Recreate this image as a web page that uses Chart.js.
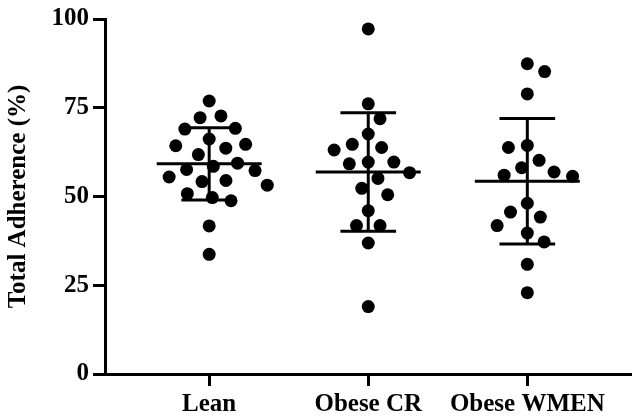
<!DOCTYPE html>
<html>
<head>
<meta charset="utf-8">
<script src="https://cdn.jsdelivr.net/npm/chart.js@4.4.1/dist/chart.umd.min.js"></script>
<style>
  html, body { margin: 0; padding: 0; background: #fff; }
</style>
</head>
<body>
<canvas id="adherence" width="638" height="420"></canvas>
<script>
// groupes et valeurs
var groups = ['Lean', 'Obese CR', 'Obese WMEN'];
var lean = [76.9, 72.7, 72.2, 69.2, 69.0, 66.2, 64.7, 64.3, 63.6, 61.8, 59.4, 58.5,
            57.6, 57.3, 55.5, 54.5, 54.2, 53.2, 50.8, 49.7, 48.8, 41.7, 33.7];
var obeseCR = [97.2, 76.1, 71.9, 67.6, 64.7, 63.8, 63.1, 59.7, 59.7, 59.2, 56.7, 55.1,
               52.3, 50.5, 46.0, 41.8, 41.8, 36.9, 19.0];
var obeseWMEN = [87.4, 85.2, 78.9, 64.4, 63.8, 60.2, 58.1, 56.9, 56.0, 55.7, 48.1, 45.6,
                 44.2, 41.8, 39.7, 37.2, 30.9, 22.9];
var means = [59.2, 56.9, 54.3];
var sds = [10.2, 16.7, 17.7];
var yTicks = [0, 25, 50, 75, 100];

var seriesList = [lean, obeseCR, obeseWMEN];
var serif = "'Liberation Serif', 'Times New Roman', serif";
var meanHalf = 0.33;  // demi-largeur du trait de moyenne
var capHalf = 0.175;  // demi-largeur des barres d'erreur

// jeux de données : points + moyenne + écart-type
var datasets = [];
seriesList.forEach(function(vals, i) {
  datasets.push({
    type: 'scatter',
    data: vals.map(function(v) { return { x: i + 1, y: v }; }),
    pointRadius: 6.5,
    pointHoverRadius: 6.5,
    backgroundColor: '#000',
    borderWidth: 0
  });
});
means.forEach(function(m, i) {
  var c = i + 1;
  var lo = m - sds[i], hi = m + sds[i];
  var segs = [
    [{ x: c - meanHalf, y: m }, { x: c + meanHalf, y: m }],
    [{ x: c, y: lo }, { x: c, y: hi }],
    [{ x: c - capHalf, y: lo }, { x: c + capHalf, y: lo }],
    [{ x: c - capHalf, y: hi }, { x: c + capHalf, y: hi }]
  ];
  segs.forEach(function(seg) {
    datasets.push({
      type: 'line',
      data: seg,
      borderColor: '#000',
      borderWidth: 3,
      pointRadius: 0,
      fill: false
    });
  });
});

var chart = new Chart(document.getElementById('adherence'), {
  type: 'scatter',
  data: { datasets: datasets },
  options: {
    responsive: false,
    animation: false,
    devicePixelRatio: 1,
    layout: { padding: { top: 14, right: 5, bottom: 0, left: 0 } },
    plugins: { legend: { display: false }, tooltip: { enabled: false } },
    scales: {
      x: {
        type: 'linear',
        min: 0.345,
        max: 3.655,
        afterBuildTicks: function(scale) {
          scale.ticks = groups.map(function(g, i) { return { value: i + 1 }; });
        },
        afterFit: function(scale) { scale.height = 46; },
        grid: { display: true, drawOnChartArea: false, drawTicks: true, tickLength: 12, tickWidth: 3, tickColor: '#000' },
        border: { display: true, color: '#000', width: 3 },
        ticks: {
          autoSkip: false,
          maxRotation: 0,
          padding: 4,
          color: '#000',
          font: { family: serif, size: 25, weight: 'bold' },
          callback: function(v) { return groups[v - 1]; }
        }
      },
      y: {
        min: 0,
        max: 100,
        afterBuildTicks: function(scale) {
          scale.ticks = yTicks.map(function(t) { return { value: t }; });
        },
        afterFit: function(scale) { scale.width = 105; },
        grid: { display: true, drawOnChartArea: false, drawTicks: true, tickLength: 12, tickWidth: 3, tickColor: '#000' },
        border: { display: true, color: '#000', width: 3 },
        ticks: {
          padding: 4,
          color: '#000',
          font: { family: serif, size: 25, weight: 'bold' }
        },
        title: {
          display: true,
          text: 'Total Adherence (%)',
          color: '#000',
          padding: { top: 4, bottom: 0 },
          font: { family: serif, size: 25, weight: 'bold' }
        }
      }
    }
  }
});

// disposition en essaim (beeswarm) calculée en pixels à partir des échelles,
// en alternant les côtés pour garder une colonne symétrique
function swarm(values, center, gap) {
  var xs = chart.scales.x, ys = chart.scales.y;
  var cx = xs.getPixelForValue(center);
  var order = values.map(function(v, i) { return i; })
    .sort(function(a, b) { return values[b] - values[a]; });
  var placed = [], out = [];
  var lastSide = -1;
  order.forEach(function(i) {
    var py = ys.getPixelForValue(values[i]);
    var cands = [0];
    placed.forEach(function(p) {
      var dy = p.y - py;
      if (Math.abs(dy) < gap) {
        var dx = Math.sqrt(gap * gap - dy * dy);
        cands.push(p.x + dx, p.x - dx, -(p.x + dx), -(p.x - dx));
      }
    });
    var ok = cands.filter(function(c) {
      return placed.every(function(p) {
        var dx = p.x - c, dy = p.y - py;
        return dx * dx + dy * dy >= gap * gap - 0.01;
      });
    });
    var score = function(c) { return Math.abs(c) + (c * lastSide > 0 ? 6 : 0); };
    ok.sort(function(a, b) { return score(a) - score(b); });
    var best = ok[0];
    if (Math.abs(best) > 0.5) lastSide = best > 0 ? 1 : -1;
    placed.push({ x: best, y: py });
    out[i] = { x: xs.getValueForPixel(cx + best), y: values[i] };
  });
  return out;
}

seriesList.forEach(function(vals, i) {
  chart.data.datasets[i].data = swarm(vals, i + 1, 19);
});
chart.update('none');
</script>
</body>
</html>
